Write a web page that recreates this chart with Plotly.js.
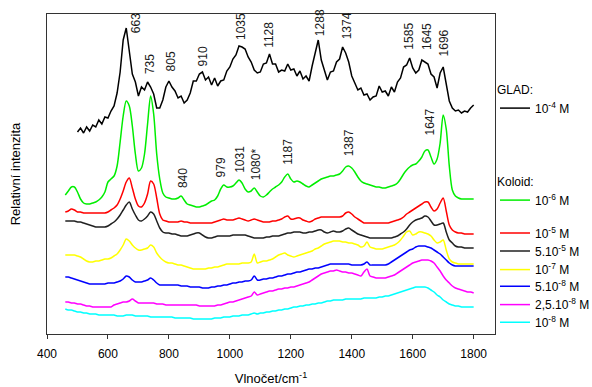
<!DOCTYPE html>
<html>
<head>
<meta charset="utf-8">
<script src="https://cdn.plot.ly/plotly-3.0.1.min.js"></script>
<style>html,body{margin:0;padding:0;background:#fff;}#chart{width:592px;height:387px;}</style>
</head>
<body>
<div id="chart"></div>
<script>
// ---- DATA ----
const wavenumber = [460,470,480,490,500,510,520,530,540,550,560,570,580,590,600,610,620,630,640,650,
660,670,680,690,700,710,720,730,740,750,760,770,780,790,800,810,820,830,840,850,
860,870,880,890,900,910,920,930,940,950,960,970,980,990,1000,1010,1020,1030,1040,1050,
1060,1070,1080,1090,1100,1110,1120,1130,1140,1150,1160,1170,1180,1190,1200,1210,1220,1230,1240,1250,
1260,1270,1280,1290,1300,1310,1320,1330,1340,1350,1360,1370,1380,1390,1400,1410,1420,1430,1440,1450,
1460,1470,1480,1490,1500,1510,1520,1530,1540,1550,1560,1570,1580,1590,1600,1610,1620,1630,1640,1650,
1660,1670,1680,1690,1700,1710,1720,1730,1740,1750,1760,1770,1780,1790,1800];

// GLAD 10^-4 M (starts at 500 cm-1)
const glad_1e4 = [202,206,201,207,203,209,207,214,210,217,
216,223,228,241,262,294,306,283,260,252,
238,247,244,252,247,240,226,226,234,247,
253,247,243,236,238,231,234,241,253,253,
260,262,254,257,249,256,248,253,254,263,
267,275,279,288,287,285,277,272,264,261,
262,270,271,280,270,270,262,264,263,270,
264,265,258,263,255,258,253,268,280,294,
274,265,254,262,263,272,275,287,281,272,
258,251,244,246,239,240,234,237,238,248,
242,243,238,247,242,252,256,267,269,276,
266,261,264,274,272,270,260,257,246,261,
267,250,233,226,223,224,221,223,222,226,
229];

const koloid_1e6 = [139,143,147,147,142,135,131,130,130,131,
132,134,137,142,152,155,158,168,192,218,
233,228,208,180,163,166,180,210,238,220,
180,155,141,137,136,135,135,136,138,134,
130,129,128,127,127,128,129,131,133,134,
138,145,149,147,147,148,151,154,151,145,
142,143,146,142,138,137,139,142,145,147,
149,152,157,160,155,152,153,152,150,148,
147,149,151,153,155,156,157,158,158,159,
160,163,167,168,166,162,157,153,151,150,
149,148,147,147,146,146,147,148,149,151,
155,160,164,167,169,170,173,177,183,184,
177,170,175,191,219,205,168,144,138,136,
135,135,135,135,135];

const koloid_1e5 = [122,123,125,124,122,122,121,121,121,121,
121,121,121,121,122,124,126,129,135,143,
152,156,146,135,128,127,131,140,153,150,
136,120,114,113,112,112,112,112,113,112,
112,111,111,111,111,111,111,111,111,112,
113,114,115,114,114,114,115,116,115,114,
113,114,115,114,113,112,112,112,113,113,
114,115,117,118,115,115,116,116,114,113,
112,113,115,116,117,117,117,117,117,117,
117,118,121,122,120,117,115,113,111,111,
111,111,111,111,111,111,111,112,113,114,
115,117,120,122,124,126,128,130,132,132,
127,123,125,131,136,123,109,104,102,101,
101,100,100,100,100];

const koloid_5e5 = [113,113,113,113,112,112,111,110,109,108,
107,107,107,107,108,110,112,115,119,124,
129,132,125,119,114,113,115,118,122,120,
113,106,102,101,101,100,100,99,98,98,
98,99,100,101,101,99,97,96,96,97,
98,98,98,98,98,99,99,99,99,99,
98,97,96,96,96,96,97,97,98,98,
98,99,100,101,101,102,102,102,101,101,
102,102,103,104,104,102,101,102,103,102,
102,103,105,106,104,102,100,99,98,97,
96,96,96,96,96,96,96,96,97,98,
100,102,105,109,112,114,115,116,118,117,
113,109,109,110,111,102,94,91,88,87,
87,86,86,86,86];

const koloid_1e7 = [79,79,79,79,78,77,75,73,72,72,
73,73,74,75,75,76,78,80,84,89,
95,93,89,86,84,84,85,86,89,87,
81,77,74,72,71,71,70,69,69,68,
67,66,65,65,65,65,65,66,66,67,
67,68,69,70,70,70,70,70,71,71,
71,72,80,71,72,73,73,74,75,77,
79,80,81,79,78,77,78,79,80,81,
82,83,85,86,88,90,91,92,93,93,
93,92,92,91,91,90,89,87,88,92,
87,86,85,85,85,86,87,88,89,91,
94,98,102,103,99,100,102,102,101,100,
98,94,91,92,94,84,75,72,71,70,
70,70,70,70,70];

const koloid_5e8 = [57,57,56,55,54,53,52,51,50,50,
50,50,50,50,51,51,51,52,53,55,
58,57,54,52,52,52,53,54,56,54,
51,49,49,49,49,49,49,49,48,48,
48,47,47,47,47,46,46,46,47,47,
48,48,49,49,50,51,51,52,52,53,
53,54,58,54,54,55,55,56,56,57,
58,58,59,60,60,61,62,62,63,64,
65,65,66,66,67,68,69,70,70,70,
70,70,70,70,69,69,69,69,70,72,
69,69,69,69,69,69,70,72,74,76,
78,80,82,84,85,87,88,88,88,87,
86,84,82,80,77,74,71,69,68,68,
68,68,68,68,68];

const koloid_25e8 = [32,32,31,31,30,30,29,28,28,27,
27,27,27,27,27,27,29,30,31,32,
32,33,35,33,31,31,31,31,31,31,
30,30,30,29,29,29,29,29,29,29,
29,29,29,29,28,28,28,28,28,28,
29,29,30,31,32,32,33,34,35,36,
37,38,42,39,40,41,42,43,43,44,
45,45,46,46,47,47,48,49,50,51,
52,54,56,58,60,61,62,63,63,64,
63,62,62,61,61,60,59,58,62,65,
58,57,56,56,56,56,57,58,59,61,
63,65,67,69,71,72,73,74,74,74,
73,71,67,63,58,54,51,48,46,45,
44,43,42,42,41];

const koloid_1e8 = [25,24,24,23,22,22,21,21,20,20,
20,19,19,19,19,19,19,18,18,18,
19,19,19,18,18,18,18,18,17,17,
17,17,17,17,17,17,16,16,16,16,
16,16,15,15,15,15,15,15,15,16,
16,16,17,17,17,18,18,18,19,19,
19,20,21,20,21,21,22,22,23,23,
24,24,25,25,26,27,27,28,28,29,
29,30,30,31,31,32,33,33,34,34,
34,34,35,35,35,35,35,35,36,36,
36,36,36,37,37,38,38,39,40,41,
42,43,44,45,46,47,47,47,47,46,
44,42,39,37,34,32,30,29,28,28,
27,27,27,27,27];

const seriesNames = ['10<sup>-4</sup> M','10<sup>-6</sup> M','10<sup>-5</sup> M','5.10<sup>-5</sup> M',
  '10<sup>-7</sup> M','5.10<sup>-8</sup> M','2,5.10<sup>-8</sup> M','10<sup>-8</sup> M'];
const groupTitles = ['GLAD:', 'Koloid:'];
const gladPeaks = ['663','735','805','910','1035','1128','1288','1374','1585','1645','1696'];
const koloidPeaks = ['840','979','1031','1080*','1187','1387','1647'];
const xTicks = [400,600,800,1000,1200,1400,1600,1800];

// ---- PLOT ----
const FONT = 'Liberation Sans, Arial, sans-serif';
const colors = ['#000000','#00ee00','#ff0000','#202020','#ffff00','#0000ff','#ff00ff','#00ffff'];
const yData = [glad_1e4, koloid_1e6, koloid_1e5, koloid_5e5, koloid_1e7, koloid_5e8, koloid_25e8, koloid_1e8];
const legendIds = ['legend','legend2','legend3','legend4','legend5','legend6','legend7','legend8'];
const traces = yData.map((y, i) => ({
  type: 'scatter', mode: 'lines',
  x: i === 0 ? wavenumber.slice(4) : wavenumber,
  y: y,
  name: seriesNames[i],
  legend: legendIds[i],
  line: {color: colors[i], width: 1.5, shape: i === 0 ? 'linear' : 'spline', smoothing: 0.8},
  hoverinfo: 'skip'
}));

// label placement (bottom of rotated label, in plot units) and small pixel nudges
const gladLabelPos = [[299,9],[258,1],[261,1],[266,1],[292,0],[284,0],[296,2],[293,3],[282,0],[282,0],[276,2]];
const koloidLabelPos = [[144,2],[155,-2],[159,0],[152,2],[167,1],[176,1],[196,2]];
const annotations = [];
function addLabel(t, pos) {
  annotations.push({
    x: parseFloat(t), y: pos[0], xshift: pos[1], xref: 'x', yref: 'y',
    text: t, textangle: -90, showarrow: false, xanchor: 'center', yanchor: 'bottom',
    font: {family: FONT, size: 12, color: '#1a1a1a'}
  });
}
gladPeaks.forEach((t, i) => addLabel(t, gladLabelPos[i]));
koloidPeaks.forEach((t, i) => addLabel(t, koloidLabelPos[i]));

// legend placement (top of each legend box, paper units)
const legendTops = [0.80, 0.5125, 0.361, 0.3047, 0.2466, 0.1944, 0.1372, 0.0819];
const layout = {
  width: 592, height: 387,
  margin: {l: 47, r: 97, t: 14, b: 53, pad: 0, autoexpand: false},
  paper_bgcolor: '#fff', plot_bgcolor: '#fff',
  font: {family: FONT, size: 12, color: '#000'},
  showlegend: true,
  xaxis: {
    range: [400, 1870], tickvals: xTicks, ticktext: xTicks.map(String),
    ticks: 'outside', ticklen: 4, tickcolor: '#333', tickwidth: 1,
    ticklabelstandoff: 4,
    showline: true, mirror: true, linecolor: '#333', linewidth: 1.2,
    showgrid: false, zeroline: false,
    tickfont: {size: 12, color: '#000'},
    title: {text: 'Vlnočet/cm<sup>-1</sup>', font: {size: 13, color: '#000'}, standoff: 14}
  },
  yaxis: {
    range: [0, 320], showticklabels: false, ticks: '',
    showline: true, mirror: true, linecolor: '#333', linewidth: 1.2,
    showgrid: false, zeroline: false,
    title: {text: 'Relativní intenzita', font: {size: 13, color: '#000'}, standoff: 22}
  },
  annotations: annotations
};
legendIds.forEach((id, i) => {
  const cfg = {
    xref: 'paper', yref: 'paper', xanchor: 'left', yanchor: 'top',
    x: 1.0, y: legendTops[i],
    bgcolor: 'rgba(0,0,0,0)', borderwidth: 0,
    font: {family: FONT, size: 12, color: '#000'},
    itemwidth: 30, tracegroupgap: 0
  };
  if (i < groupTitles.length) {
    cfg.title = {text: groupTitles[i], side: 'top', font: {family: FONT, size: 12, color: '#000'}};
  }
  layout[id] = cfg;
});

Plotly.newPlot('chart', traces, layout, {staticPlot: true, displayModeBar: false});
</script>
</body>
</html>
